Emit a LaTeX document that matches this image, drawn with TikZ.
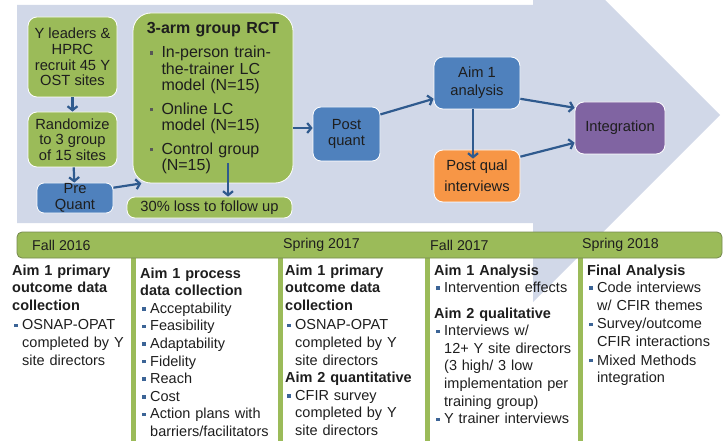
\documentclass[tikz,border=0pt]{standalone}
\usepackage{fontspec}
\setmainfont{Liberation Sans}
\usetikzlibrary{arrows.meta, positioning}

\definecolor{bgarrow}{HTML}{D1D8E8}
\definecolor{boxgreen}{HTML}{9BBB59}
\definecolor{boxblue}{HTML}{4F81BD}
\definecolor{boxorange}{HTML}{F79646}
\definecolor{boxpurple}{HTML}{8064A2}
\definecolor{arrowblue}{HTML}{2F5A8E}
\definecolor{bulletblue}{HTML}{3C6496}
\definecolor{bardraw}{HTML}{76894F}
\definecolor{txt}{HTML}{1E1E1E}

\newcommand{\bul}{\hspace*{2pt}\makebox[8pt][l]{\textcolor{bulletblue}{\rule[2.6pt]{3.6pt}{3.6pt}}}}
\newcommand{\ind}{\hspace*{10pt}}
\newcommand{\rbul}{\hspace*{9pt}\makebox[12pt][l]{\textcolor{txt!75}{\rule[3pt]{3.6pt}{3.6pt}}}}
\newcommand{\rind}{\hspace*{21pt}}

\begin{document}
\begin{tikzpicture}[x=1pt, y=-1pt, ->, >={Straight Barb[length=4pt,width=10pt]}, font=\fontsize{14.7}{15.7}\selectfont]
    \tikzstyle{every node}=[text=txt]
    \tikzstyle{topbox}=[shape=rectangle, rounded corners=9pt, draw=white, line width=0.8pt, align=center, inner sep=0pt]
    \tikzstyle{greenbox}=[topbox, fill=boxgreen]
    \tikzstyle{bluebox}=[topbox, fill=boxblue]
    \tikzstyle{orangebox}=[topbox, fill=boxorange]
    \tikzstyle{purplebox}=[topbox, fill=boxpurple]
    \tikzstyle{link}=[->, draw=arrowblue, line width=2.2pt]
    \tikzstyle{column}=[anchor=base west, inner sep=0pt, align=left, text width=140pt, font=\fontsize{14.5}{17.6}\selectfont]
    \tikzstyle{barlabel}=[anchor=west, inner sep=0pt, font=\fontsize{14.2}{15}\selectfont]
    \tikzstyle{sepline}=[-, draw=boxgreen, line width=5pt]

    \useasboundingbox (0,0) rectangle (726,441);

    % big background arrow
    \fill[bgarrow, -] (17,5) -- (533,5) -- (533,-72) -- (720,115) -- (533,302) -- (533,223) -- (17,223) -- cycle;

    \node[greenbox, minimum width=89pt, minimum height=80pt] (recruit) at (72.5,57) {Y leaders \&\\HPRC\\recruit 45 Y\\OST sites};
    \node[greenbox, minimum width=89pt, minimum height=55pt] (randomize) at (72.5,139.5) {Randomize\\to 3 group\\of 15 sites};
    \node[bluebox, rounded corners=7pt, minimum width=76pt, minimum height=30pt] (prequant) at (75,198) {Pre\\Quant};
    \node[greenbox, rounded corners=18pt, minimum width=160pt, minimum height=170pt, text width=145pt, align=left,
          font=\fontsize{16}{16.5}\selectfont] (rct) at (213,98)
        {\makebox[\linewidth][c]{\bfseries 3-arm group RCT}\\[8pt]
         \rbul In-person train-\\ \rind the-trainer LC\\ \rind model (N=15)\\[7pt]
         \rbul Online LC\\ \rind model (N=15)\\[7pt]
         \rbul Control group\\ \rind (N=15)};
    \node[greenbox, rounded corners=8pt, minimum width=165pt, minimum height=21pt] (loss) at (209.5,207.5) {30\% loss to follow up};

    \node[bluebox, rounded corners=8pt, minimum width=67pt, minimum height=54pt] (postquant) at (346.5,134) {Post\\quant};
    \node[bluebox, minimum width=86pt, minimum height=52pt, font=\fontsize{14.7}{18}\selectfont] (aim1) at (477,83) {Aim 1\\analysis};
    \node[orangebox, minimum width=86pt, minimum height=52pt, font=\fontsize{14.7}{21}\selectfont] (postqual) at (477,176) {Post qual\\interviews};
    \node[purplebox, minimum width=90pt, minimum height=52pt] (integration) at (620,128) {Integration};

    \path
    (recruit)   edge[link]  (randomize)
    (randomize) edge[link]  (prequant)
    (prequant.15) edge[link] (rct.230)
    ([xshift=15pt,yshift=20pt]rct.south) edge[link] ([xshift=15pt]rct.south |- loss.north)
    ([yshift=6pt]postquant.west -| rct.east) edge[link] ([yshift=6pt]postquant.west)
    (postquant.30) edge[link] (aim1.200)
    ([xshift=-4pt]aim1.south) edge[link] ([xshift=-4pt,yshift=-9pt]postqual.north)
    (aim1.-20)  edge[link]  (integration.156)
    (postqual.24) edge[link] (integration.198)
    ;

    % timeline
    \foreach \x in {133,280,427,580}
        \draw[sepline] (\x,258) -- (\x,441);
    \node[-, draw=bardraw, fill=boxgreen, rounded corners=5pt, line width=0.8pt, minimum width=705pt, minimum height=26pt] (bar) at (369.5,245) {};
    \node[barlabel] (fall16) at (32,245) {Fall 2016};
    \node[barlabel] (spring17) at (283,245) {Spring 2017};
    \node[barlabel] (fall17) at (430,245) {Fall 2017};
    \node[barlabel] (spring18) at (582,245) {Spring 2018};

    \node[column] (colA) at (12,275)
        {\textbf{Aim 1 primary}\\ \textbf{outcome data}\\ \textbf{collection}\\[2pt]
         \bul OSNAP-OPAT\\ \ind completed by Y\\ \ind site directors};
    \node[column] (colB) at (140,278)
        {\textbf{Aim 1 process}\\ \textbf{data collection}\\
         \bul Acceptability\\ \bul Feasibility\\ \bul Adaptability\\ \bul Fidelity\\
         \bul Reach\\ \bul Cost\\ \bul Action plans with\\ \ind barriers/facilitators};
    \node[column] (colC) at (285,275)
        {\textbf{Aim 1 primary}\\ \textbf{outcome data}\\ \textbf{collection}\\[2pt]
         \bul OSNAP-OPAT\\ \ind completed by Y\\ \ind site directors\\
         \textbf{Aim 2 quantitative}\\
         \bul CFIR survey\\ \ind completed by Y\\ \ind site directors};
    \node[column] (colD) at (434,275)
        {\textbf{Aim 1 Analysis}\\
         \bul Intervention effects\\[8pt]
         \textbf{Aim 2 qualitative}\\
         \bul Interviews w/\\ \ind 12+ Y site directors\\ \ind (3 high/ 3 low\\ \ind implementation per\\ \ind training group)\\
         \bul Y trainer interviews};
    \node[column] (colE) at (587,275)
        {\textbf{Final Analysis}\\
         \bul Code interviews\\ \ind w/ CFIR themes\\[1pt]
         \bul Survey/outcome\\ \ind CFIR interactions\\[1pt]
         \bul Mixed Methods\\ \ind integration};

\end{tikzpicture}
\end{document}
